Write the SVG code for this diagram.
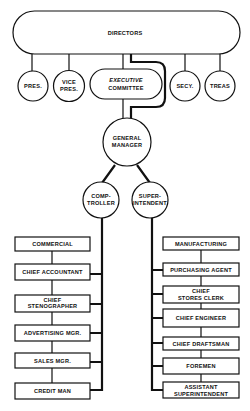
<svg xmlns="http://www.w3.org/2000/svg" width="250" height="411" viewBox="0 0 250 411">
<style>
.s{fill:#fff;stroke:#111;stroke-width:1.2}
.t{font-family:"Liberation Sans",Arial,sans-serif;font-weight:bold;font-size:5.6px;fill:#111;text-anchor:middle;letter-spacing:0.2px}
.thin{stroke:#111;stroke-width:1.2;fill:none}
.thick{stroke:#111;stroke-width:2.2;fill:none}
</style>
<rect width="250" height="411" fill="#fff"/>
<g id="connectors">
<path class="thin" d="M32,54V71M69,54V71M185,54V71M220,54V71"/>
<path class="thin" d="M123,54V69M123,99V118"/>
<path class="thick" d="M131,54V62H156Q165,62 165,71V98Q165,107 156,107H131V118"/>
<path class="thick" d="M115,165L102,183M137,165L150,183"/>
<path class="thick" d="M102,218V390H90M102,274H90M102,304H90M102,333H90M102,362H90"/>
<path class="thick" d="M152,218V390H163M152,270H163M152,294H163M152,318H163M152,343H163M152,366H163"/>
<path class="thin" d="M52,251V264M52,280V295M52,312V325M52,341V353M52,368V383"/>
<path class="thin" d="M201,250V263M201,276V286M201,303V309M201,327V337M201,350V358M201,374V382"/>
</g>
<g id="directors"><rect class="s" x="13" y="11" width="227" height="43" rx="21.5"/><text class="t" x="125" y="35">DIRECTORS</text></g>
<g id="pres"><circle class="s" cx="33" cy="86" r="15"/><text class="t" x="33" y="88">PRES.</text></g>
<g id="vicepres"><circle class="s" cx="69" cy="86" r="15.5"/><text class="t" x="69" y="84">VICE</text><text class="t" x="69" y="91">PRES.</text></g>
<g id="exec"><rect class="s" x="90" y="69" width="72" height="30" rx="15"/><text class="t" x="126" y="82" font-style="italic">EXECUTIVE</text><text class="t" x="126" y="90">COMMITTEE</text></g>
<g id="secy"><circle class="s" cx="185" cy="86" r="15"/><text class="t" x="185" y="88">SECY.</text></g>
<g id="treas"><circle class="s" cx="220" cy="86" r="15"/><text class="t" x="220" y="88">TREAS</text></g>
<g id="gm"><circle class="s" cx="127" cy="142" r="24"/><text class="t" x="127" y="140">GENERAL</text><text class="t" x="127" y="147">MANAGER</text></g>
<g id="comptroller"><circle class="s" cx="101" cy="200" r="18"/><text class="t" x="101" y="198">COMP-</text><text class="t" x="101" y="205">TROLLER</text></g>
<g id="superintendent"><circle class="s" cx="150" cy="200" r="18"/><text class="t" x="150" y="198">SUPER-</text><text class="t" x="150" y="205">INTENDENT</text></g>
<g id="commercial"><rect class="s" x="15" y="237" width="75" height="14"/><text class="t" x="52.5" y="246">COMMERCIAL</text></g>
<g id="chiefaccountant"><rect class="s" x="15" y="264" width="75" height="16"/><text class="t" x="52.5" y="274">CHIEF ACCOUNTANT</text></g>
<g id="stenographer"><rect class="s" x="15" y="295" width="75" height="17"/><text class="t" x="52.5" y="302">CHIEF</text><text class="t" x="52.5" y="308">STENOGRAPHER</text></g>
<g id="advertising"><rect class="s" x="15" y="325" width="75" height="16"/><text class="t" x="52.5" y="335">ADVERTISING MGR.</text></g>
<g id="sales"><rect class="s" x="15" y="353" width="75" height="15"/><text class="t" x="52.5" y="363">SALES MGR.</text></g>
<g id="creditman"><rect class="s" x="15" y="383" width="75" height="16"/><text class="t" x="52.5" y="393">CREDIT MAN</text></g>
<g id="manufacturing"><rect class="s" x="163" y="237" width="76" height="13"/><text class="t" x="201" y="245.5">MANUFACTURING</text></g>
<g id="purchasing"><rect class="s" x="163" y="263" width="76" height="13"/><text class="t" x="201" y="271.5">PURCHASING AGENT</text></g>
<g id="storesclerk"><rect class="s" x="163" y="286" width="76" height="17"/><text class="t" x="201" y="293">CHIEF</text><text class="t" x="201" y="300">STORES CLERK</text></g>
<g id="engineer"><rect class="s" x="163" y="309" width="76" height="18"/><text class="t" x="201" y="320">CHIEF ENGINEER</text></g>
<g id="draftsman"><rect class="s" x="163" y="337" width="76" height="13"/><text class="t" x="201" y="345.5">CHIEF DRAFTSMAN</text></g>
<g id="foremen"><rect class="s" x="163" y="358" width="76" height="16"/><text class="t" x="201" y="368">FOREMEN</text></g>
<g id="assistant"><rect class="s" x="163" y="382" width="76" height="16"/><text class="t" x="201" y="389">ASSISTANT</text><text class="t" x="201" y="395.5">SUPERINTENDENT</text></g>
</svg>
